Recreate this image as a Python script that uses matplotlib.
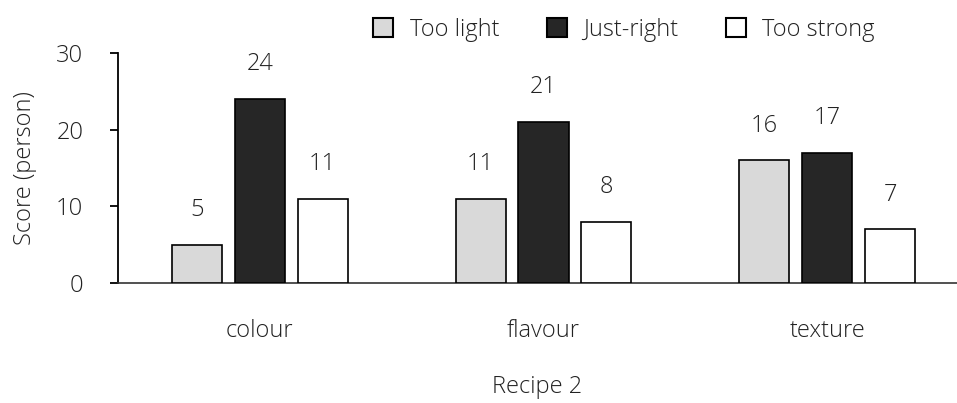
import matplotlib
matplotlib.use("Agg")
import matplotlib.pyplot as plt
import numpy as np

categories = ["colour", "flavour", "texture"]
series_names = ["Too light", "Just-right", "Too strong"]
too_light = [5, 11, 16]
just_right = [24, 21, 17]
too_strong = [11, 8, 7]
y_ticks = [0, 10, 20, 30]

plt.rcParams["font.family"] = ["Open Sans", "DejaVu Sans"]
plt.rcParams["font.weight"] = "light"
plt.rcParams["axes.labelweight"] = "light"
text_color = "#222222"
fs = 17

W, H = 957, 403
fig = plt.figure(figsize=(W / 100, H / 100), dpi=100)
# axes spans x 118..969 px, y 53..283 px (the right edge runs off the canvas)
ax = fig.add_axes([118 / W, (H - 283) / H, (969 - 118) / W, (283 - 53) / H])

x = np.arange(len(categories))
bw = 50 / 283.5
step = 62.8 / 283.5
fills = ["#d9d9d9", "#262626", "#ffffff"]
for i, (vals, name, fc) in enumerate(zip([too_light, just_right, too_strong], series_names, fills)):
    bars = ax.bar(x + (i - 1) * step, vals, width=bw, color=fc, edgecolor="black",
                  linewidth=1.2, label=name, zorder=3)
    for b, v in zip(bars, vals):
        ax.annotate(f"{v}", (b.get_x() + b.get_width() / 2, v), xytext=(0, 25),
                    textcoords="offset points", ha="center", va="center",
                    fontsize=fs, fontweight="light", color=text_color)

ax.set_xlim(-0.5, 2.5)
ax.set_ylim(0, 30)
ax.set_yticks(y_ticks)
ax.tick_params(axis="y", direction="out", length=6, width=1.3, pad=19,
               labelsize=fs, labelcolor=text_color)
ax.set_xticks(x)
ax.set_xticklabels(categories)
ax.tick_params(axis="x", length=0, pad=26, labelsize=fs, labelcolor=text_color)

for s in ["top", "right"]:
    ax.spines[s].set_visible(False)
ax.spines["left"].set_linewidth(1.3)
ax.spines["left"].set_color("black")
ax.spines["bottom"].set_linewidth(1.2)
ax.spines["bottom"].set_color("#333333")

ax.set_ylabel("Score (person)", fontsize=fs, fontweight="light", color=text_color,
              labelpad=14)
fig.text(537 / W, 1 - 387 / H, "Recipe 2", ha="center", va="center",
         fontsize=fs, fontweight="light", color=text_color)

leg = fig.legend(loc="center", bbox_to_anchor=(624 / W, 1 - 30 / H), ncol=3,
                 frameon=False, fontsize=fs, handlelength=0.85, handleheight=0.85,
                 handletextpad=0.7, columnspacing=2.0, labelcolor=text_color)
for h in leg.legend_handles:
    h.set_linewidth(1.5)

fig.savefig("out.png", dpi=100)
